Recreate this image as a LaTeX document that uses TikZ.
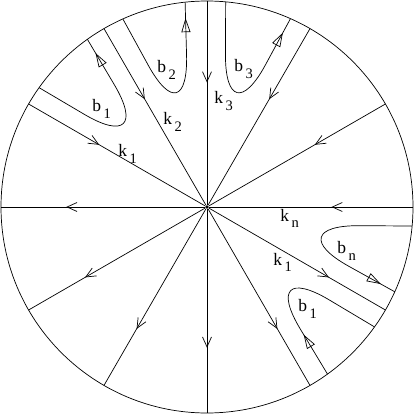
\documentclass[tikz,border=0pt]{standalone}
\usepackage{fontspec}
\setmainfont{Liberation Serif}
\usetikzlibrary{arrows.meta,decorations.markings}

% letter with a lowered index, spaced as in the figure
\newcommand{\sublab}[2]{#1\kern2.5pt\raisebox{-7pt}{\fontsize{14.5}{16}\selectfont #2}}

\tikzset{
  dot/.style={circle,fill,inner sep=1.3pt},
  raybarb/.tip={Straight Barb[length=10pt,width=9pt]},
  flowtip/.tip={Triangle[open,length=14pt,width=9pt]},
  ray in/.style={postaction={decorate},
    decoration={markings,mark=at position 0.4 with {\arrow{raybarb}}}},
  ray out/.style={postaction={decorate},
    decoration={markings,mark=at position 0.68 with {\arrow{raybarb}}}},
  bcurve/.style={rounded corners=85pt},
  flow end/.style={postaction={decorate},
    decoration={markings,mark=at position -16pt with {\arrow{flowtip}}}},
  flow start/.style={postaction={decorate},
    decoration={markings,mark=at position 46pt with {\arrow{flowtip}}}},
  lab/.style={anchor=base west,inner sep=0pt,font=\fontsize{17.5}{20}\selectfont}
}

\begin{document}
\begin{tikzpicture}[x=1pt,y=1pt,line width=0.7pt]
      \useasboundingbox (-207,-208) rectangle (208,207);
      \draw (0,0) circle (206);
      \draw
        (0,0) node[dot] (o) {}
        (0:206) coordinate (r0)
        (30:206) coordinate (r1)
        (60:206) coordinate (r2)
        (90:206) coordinate (r3)
        (120:206) coordinate (r4)
        (150:206) coordinate (r5)
        (180:206) coordinate (r6)
        (210:206) coordinate (r7)
        (240:206) coordinate (r8)
        (270:206) coordinate (r9)
        (300:206) coordinate (r10)
        (330:206) coordinate (r11);
      % rays into the centre
      \draw[ray in] (r0) to (o);
      \draw[ray in] (r1) to (o);
      \draw[ray in] (r2) to (o);
      \draw[ray in] (r3) to (o);
      \draw[ray in] (r4) to (o);
      \draw[ray in] (r5) to (o);
      % rays out of the centre
      \draw[ray out] (o) to (r6);
      \draw[ray out] (o) to (r7);
      \draw[ray out] (o) to (r8);
      \draw[ray out] (o) to (r9);
      \draw[ray out] (o) to (r10);
      \draw[ray out] (o) to (r11);
      % the curves b
      \draw[bcurve,flow end] (144.6:206) -- (135:70) -- (125.5:206);
      \draw[bcurve,flow end] (114.1:206) -- (105:70) -- (96.1:206);
      \draw[bcurve,flow end] (84.8:206) -- (75:70) -- (66.1:206);
      \draw[bcurve,flow end] (-5.3:206) -- (-15:70) -- (-24.3:206);
      \draw[bcurve,flow start] (-54.2:206) -- (-45:70) -- (-35.6:206);
      % labels
      \node[lab] (lb1) at (-115,95) {\sublab{b}{1}};
      \node[lab] (lb2) at (-50,134) {\sublab{b}{2}};
      \node[lab] (lb3) at (27,135) {\sublab{b}{3}};
      \node[lab] (lk1) at (-89,50) {\sublab{k}{1}};
      \node[lab] (lk2) at (-44,82) {\sublab{k}{2}};
      \node[lab] (lk3) at (7,103) {\sublab{k}{3}};
      \node[lab] (lkn) at (73,-14) {\sublab{k}{n}};
      \node[lab] (lbn) at (130,-46) {\sublab{b}{n}};
      \node[lab] (lk1b) at (66,-58) {\sublab{k}{1}};
      \node[lab] (lb1b) at (91,-104) {\sublab{b}{1}};
    \end{tikzpicture}
\end{document}
